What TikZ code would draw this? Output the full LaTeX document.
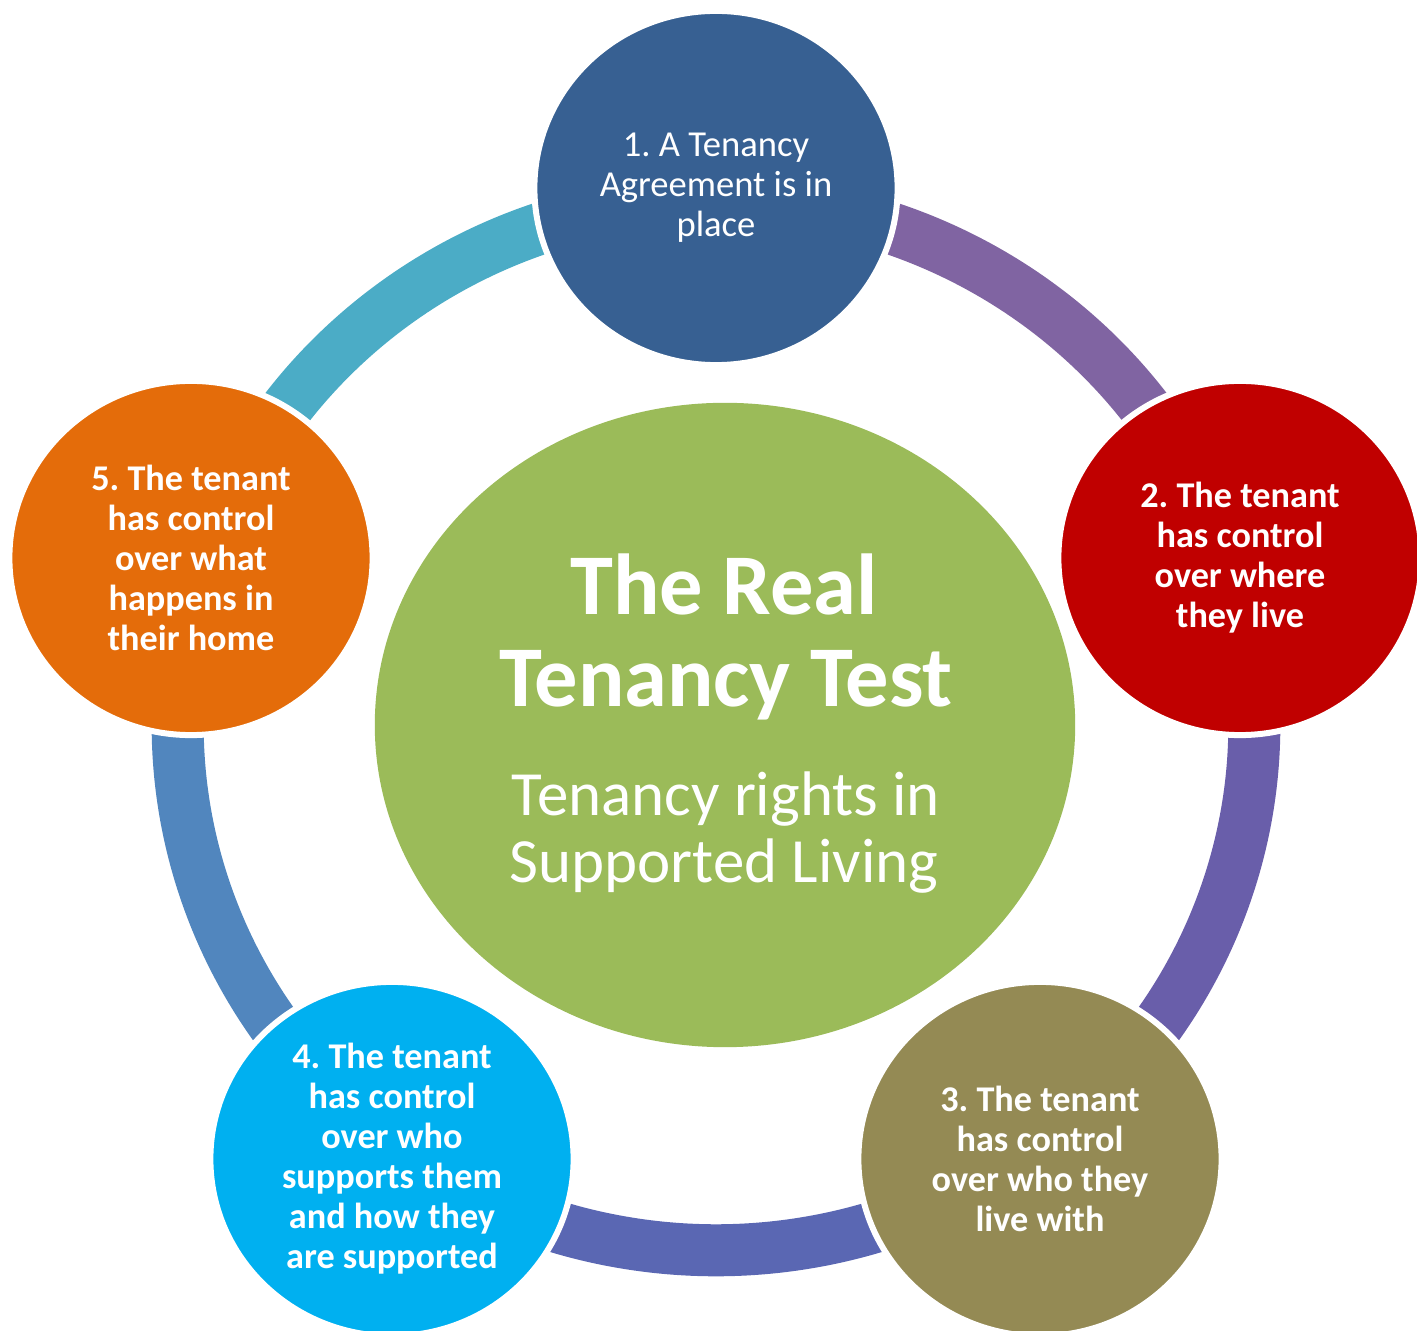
\documentclass[tikz,border=0pt]{standalone}
\usepackage{fontspec}
\setmainfont{Carlito}
\usetikzlibrary{shapes.geometric,calc}
\definecolor{hubgreen}{HTML}{9BBB59}
\definecolor{cone}{HTML}{376092}
\definecolor{ctwo}{HTML}{C00000}
\definecolor{cthree}{HTML}{948A54}
\definecolor{cfour}{HTML}{00B0F0}
\definecolor{cfive}{HTML}{E46C0A}
\definecolor{arcA}{HTML}{8064A2}
\definecolor{arcB}{HTML}{695EAA}
\definecolor{arcC}{HTML}{5A67B3}
\definecolor{arcD}{HTML}{5186BE}
\definecolor{arcE}{HTML}{4BACC6}
\frenchspacing
\begin{document}
\begin{tikzpicture}[x=0.01cm,y=0.01cm,
  bubble/.style={ellipse, inner sep=0pt, minimum width=3.63cm, minimum height=3.54cm,
    draw=white, line width=0.06cm, text=white, align=center,
    font=\frenchspacing\bfseries\fontsize{10.3pt}{11.38pt}\selectfont},
  ringseg/.style={line width=0.52cm},
  hubtitle/.style={anchor=base, inner sep=0pt, text=white, font=\bfseries\fontsize{24.6pt}{26pt}\selectfont},
  hubsub/.style={anchor=base, inner sep=0pt, text=white, font=\fontsize{17.9pt}{19.1pt}\selectfont}
  ]
\useasboundingbox (0,0) rectangle (1417,-1331);
\coordinate (ring) at (716,-725);
\coordinate (r1) at ($(ring)+(90:5.38cm and 5.25cm)$);
\coordinate (r2) at ($(ring)+(18:5.38cm and 5.25cm)$);
\coordinate (r3) at ($(ring)+(-54:5.38cm and 5.25cm)$);
\coordinate (r4) at ($(ring)+(-126:5.38cm and 5.25cm)$);
\coordinate (r5) at ($(ring)+(162:5.38cm and 5.25cm)$);
\draw[ringseg, arcA] (r1) arc[start angle=90, end angle=18, x radius=5.38cm, y radius=5.25cm];
\draw[ringseg, arcB] (r2) arc[start angle=18, end angle=-54, x radius=5.38cm, y radius=5.25cm];
\draw[ringseg, arcC] (r3) arc[start angle=-54, end angle=-126, x radius=5.38cm, y radius=5.25cm];
\draw[ringseg, arcD] (r4) arc[start angle=-126, end angle=-198, x radius=5.38cm, y radius=5.25cm];
\draw[ringseg, arcE] (r5) arc[start angle=162, end angle=90, x radius=5.38cm, y radius=5.25cm];
\node[bubble, fill=cone, font=\frenchspacing\fontsize{10.4pt}{11.38pt}\selectfont] (n1) at (716,-188) {1. A Tenancy\\Agreement is in\\place};
\node[bubble, fill=ctwo] (n2) at (1240,-558) {2. The tenant\\has control\\over where\\they live};
\node[bubble, fill=cthree] (n3) at (1040,-1159) {3. The tenant\\has control\\over who they\\live with};
\node[bubble, fill=cfour] (n4) at (392,-1159) {4. The tenant\\has control\\over who\\supports them\\and how they\\are supported};
\node[bubble, fill=cfive] (n5) at (191,-558) {5. The tenant\\has control\\over what\\happens in\\their home};
\node[ellipse, fill=hubgreen, inner sep=0pt, minimum width=7cm, minimum height=6.44cm] (hub) at (725,-725) {};
\node[hubtitle] (t1) at (724,-615) {The Real};
\node[hubtitle] (t2) at (726,-707) {Tenancy Test};
\node[hubsub] (s1) at (726,-816) {Tenancy rights in};
\node[hubsub] (s2) at (724,-883) {Supported Living};
\end{tikzpicture}
\end{document}
